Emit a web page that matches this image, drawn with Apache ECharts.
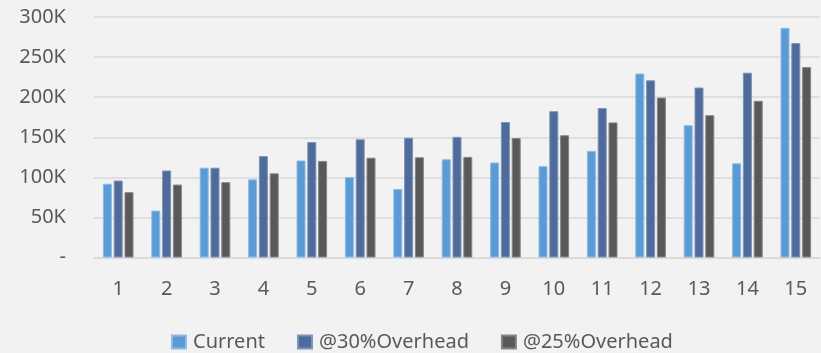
<!DOCTYPE html>
<html>
<head>
<meta charset="utf-8">
<script src="https://cdn.jsdelivr.net/npm/echarts@6/dist/echarts.min.js"></script>
<style>
  html, body { margin: 0; padding: 0; background: #f2f2f2; }
  #chart { width: 821px; height: 353px; }
</style>
</head>
<body>
<div id="chart"></div>
<script>
// Categories and series values (in thousands)
const categories = ['1', '2', '3', '4', '5', '6', '7', '8', '9', '10', '11', '12', '13', '14', '15'];
const current = [92, 58.5, 112, 97.5, 121, 100.5, 85.5, 122.5, 118.5, 114, 133, 229.5, 165, 117.5, 286.5];
const overhead30 = [96, 108.5, 112, 126.5, 144, 147.5, 149.5, 150.5, 169, 182.5, 186.5, 221, 212, 230.5, 267.5];
const overhead25 = [81.5, 91, 94, 105, 120.5, 124.5, 125, 125.5, 149, 152.5, 168.5, 199.5, 177.5, 195.5, 237.5];
const seriesNames = ['Current', '@30%Overhead', '@25%Overhead'];
const yTicks = { min: 0, max: 300, interval: 50 };

const FONT = '"Noto Sans", "DejaVu Sans", sans-serif';
const TEXT = '#595959';
const colors = ['#5b9bd5', '#4f6b9c', '#595959'];
const borders = ['#8ebbe3', '#7d93b8', '#868686'];

const chart = echarts.init(document.getElementById('chart'), null, { renderer: 'canvas' });

function barSeries(name, data, i) {
  return {
    name: name,
    type: 'bar',
    data: data,
    barWidth: 9,
    barGap: '20%',
    itemStyle: { color: colors[i], borderColor: borders[i], borderWidth: 1 }
  };
}

chart.setOption({
  backgroundColor: '#f2f2f2',
  animation: false,
  textStyle: { fontFamily: FONT },
  grid: { left: 94, right: 1, top: 17, bottom: 95.5, containLabel: false },
  xAxis: {
    type: 'category',
    data: categories,
    axisLine: { show: true, lineStyle: { color: '#d9d9d9', width: 1.5 } },
    axisTick: { show: false },
    axisLabel: { color: TEXT, fontSize: 20, fontFamily: FONT, margin: 22 }
  },
  yAxis: {
    type: 'value',
    min: yTicks.min,
    max: yTicks.max,
    interval: yTicks.interval,
    axisLine: { show: false },
    axisTick: { show: false },
    splitLine: { lineStyle: { color: '#d9d9d9', width: 1.5 } },
    axisLabel: {
      color: TEXT, fontSize: 20, fontFamily: FONT, margin: 28,
      formatter: v => v === 0 ? '-' : v + 'K'
    }
  },
  legend: {
    data: seriesNames,
    left: 166,
    top: 327,
    icon: 'rect',
    itemWidth: 14,
    itemHeight: 13,
    itemGap: 32,
    textStyle: { color: TEXT, fontSize: 20, fontFamily: FONT, padding: [0, 0, 0, 2] }
  },
  series: [
    barSeries(seriesNames[0], current, 0),
    barSeries(seriesNames[1], overhead30, 1),
    barSeries(seriesNames[2], overhead25, 2)
  ]
});
</script>
</body>
</html>
